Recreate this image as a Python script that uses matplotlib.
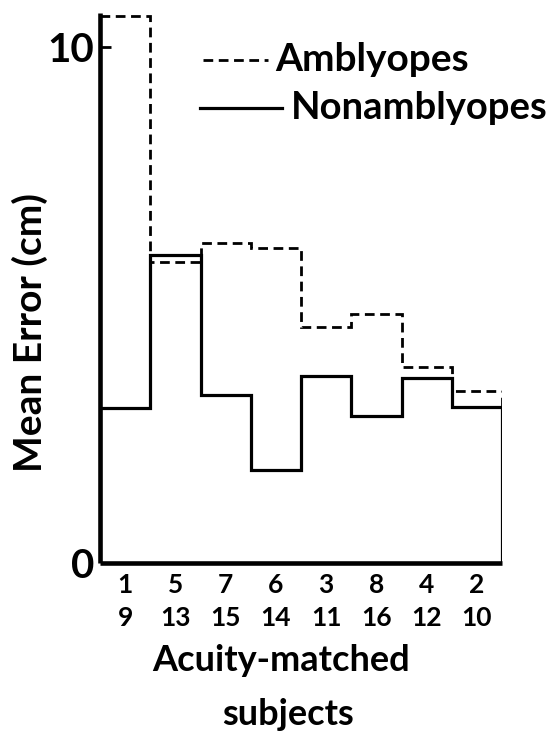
import numpy as np
import matplotlib
matplotlib.use("Agg")
import matplotlib.pyplot as plt

# acuity-matched pairs (amblyope / nonamblyope subject numbers)
amb_ids = ["1", "5", "7", "6", "3", "8", "4", "2"]
non_ids = ["9", "13", "15", "14", "11", "16", "12", "10"]

# mean error (cm)
amblyopes = [10.6, 5.83, 6.20, 6.10, 4.57, 4.83, 3.80, 3.33]
nonamblyopes = [3.00, 5.97, 3.26, 1.80, 3.62, 2.85, 3.59, 3.02]

plt.rcParams["font.family"] = ["Lato", "DejaVu Sans"]
W = "bold"

fig = plt.figure(figsize=(5.56, 7.37), dpi=100)
ax = fig.add_axes([0.18, 0.236, 0.723, 0.746])

edges = np.arange(len(amblyopes) + 1)
ax.stairs(nonamblyopes, edges, baseline=0, color="black", lw=2.3)
ax.stairs(amblyopes, edges, baseline=None, color="black", lw=2.0,
          linestyle=(0, (3.5, 2)))
ax.vlines(edges[-1], nonamblyopes[-1], amblyopes[-1], color="black",
          lw=2.0, linestyle=(0, (3.5, 2)))

ax.set_xlim(0, len(amblyopes))
ax.set_ylim(0, 10.66)

for s in ["top", "right"]:
    ax.spines[s].set_visible(False)
for s in ["left", "bottom"]:
    ax.spines[s].set_linewidth(3.3)
    ax.spines[s].set_capstyle("butt")

ax.set_yticks([0, 10])
ax.set_yticklabels(["0", "10"], fontsize=29, fontweight=W)
ax.tick_params(axis="y", direction="in", length=8, width=2, pad=4)
ax.get_yticklines()[0].set_visible(False)

ax.set_xticks(edges[:-1] + 0.5)
ax.set_xticklabels([a + "\n" + b for a, b in zip(amb_ids, non_ids)],
                   fontsize=19, fontweight=W, linespacing=1.45)
ax.tick_params(axis="x", length=0, pad=7)

ax.set_ylabel("Mean Error (cm)", fontsize=28, fontweight=W)
ax.yaxis.set_label_coords(-0.13, 0.42)
fig.text(0.505, 0.104, "Acuity-matched", ha="center", va="center",
         fontsize=26, fontweight=W)
fig.text(0.518, 0.03, "subjects", ha="center", va="center",
         fontsize=26, fontweight=W)

# legend drawn by hand
ax.plot([0.256, 0.418], [0.915, 0.915], transform=ax.transAxes,
        color="black", lw=2.0, linestyle=(0, (3.5, 2)))
ax.plot([0.249, 0.453], [0.827, 0.827], transform=ax.transAxes,
        color="black", lw=2.3)
ax.text(0.435, 0.915, "Amblyopes", transform=ax.transAxes, va="center",
        fontsize=28, fontweight=W)
ax.text(0.474, 0.827, "Nonamblyopes", transform=ax.transAxes, va="center",
        fontsize=27.5, fontweight=W)

fig.savefig("out.png", dpi=100)
